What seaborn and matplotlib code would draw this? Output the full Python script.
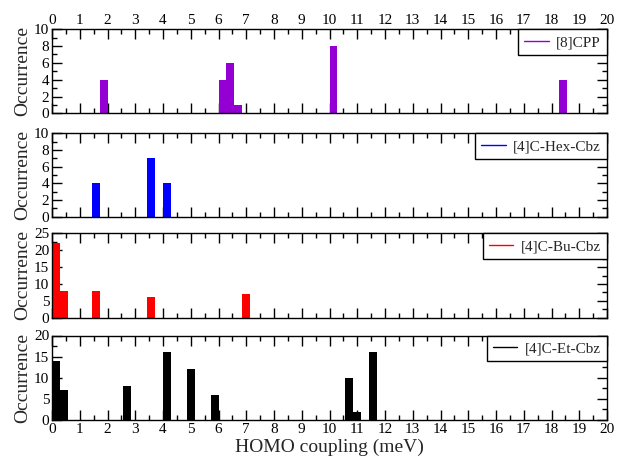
import numpy as np
import pandas as pd
import matplotlib
matplotlib.use("Agg")
import matplotlib.pyplot as plt
from matplotlib.lines import Line2D
from matplotlib.ticker import MultipleLocator
import seaborn as sns

# ---------------- data (bin centres in meV, counts) ----------------
cpp_coupling = [1.857, 6.143, 6.429, 6.714, 10.143, 18.429]
cpp_count = [4, 4, 6, 1, 8, 4]

hex_coupling = [1.571, 3.571, 4.143]
hex_count = [4, 7, 4]

bu_coupling = [0.143, 0.429, 1.571, 3.571, 7.0]
bu_count = [22, 8, 8, 6, 7]

et_coupling = [0.143, 0.429, 2.714, 4.143, 5.0, 5.857, 10.714, 11.0, 11.571]
et_count = [14, 7, 8, 16, 12, 6, 10, 2, 16]

labels = ["[8]CPP", "[4]C-Hex-Cbz", "[4]C-Bu-Cbz", "[4]C-Et-Cbz"]
colors = ["#9400D3", "#0000FF", "#FF0000", "#000000"]
ymax = [10, 10, 25, 20]
ymajor = [2, 2, 5, 5]
x_ticks = list(range(0, 21))
bin_edges = [float(v) for v in np.linspace(0, 20, 71)]

series = [(cpp_coupling, cpp_count), (hex_coupling, hex_count),
          (bu_coupling, bu_count), (et_coupling, et_count)]

sns.set_style("ticks")
plt.rcParams["font.family"] = ["Liberation Serif", "DejaVu Serif"]
plt.rcParams["mathtext.fontset"] = "stix"

fig = plt.figure(figsize=(6.19, 4.62), dpi=100)

W, H = 619.0, 462.0
left, right = 52.0, 607.0
panels_px = [(29.3, 113.3), (133.3, 216.7), (233.3, 317.7), (335.5, 420.0)]

for i, ((xs, cs), (top, bot)) in enumerate(zip(series, panels_px)):
    ax = fig.add_axes([left / W, 1 - bot / H, (right - left) / W, (bot - top) / H])
    df = pd.DataFrame({"coupling": xs, "count": cs})
    sns.histplot(data=df, x="coupling", weights="count", bins=bin_edges,
                 color=colors[i], alpha=1.0, linewidth=0, ax=ax, zorder=2)
    ax.set_xlim(0, 20)
    ax.set_ylim(0, ymax[i])
    ax.xaxis.set_major_locator(MultipleLocator(1))
    ax.xaxis.set_minor_locator(MultipleLocator(0.5))
    ax.yaxis.set_major_locator(MultipleLocator(ymajor[i]))
    ax.yaxis.set_minor_locator(MultipleLocator(ymajor[i] / 2))
    ax.tick_params(which="both", direction="in", top=True, bottom=True,
                   left=True, right=True, width=1.0, colors="black",
                   labelsize=11, pad=2)
    ax.tick_params(which="major", length=7.2)
    ax.tick_params(which="minor", length=3.6)
    ax.xaxis.set_zorder(0.5)
    ax.yaxis.set_zorder(0.5)
    for sp in ax.spines.values():
        sp.set_visible(True)
        sp.set_linewidth(1.0)
        sp.set_color("black")
        sp.set_zorder(3)
    ax.set_ylabel("Occurrence", fontsize=14, labelpad=2)
    ax.set_xlabel("")
    if i == 0:
        ax.tick_params(axis="x", which="both", labeltop=True, labelbottom=False)
        ax.set_xticks(x_ticks)
    elif i == 3:
        ax.tick_params(axis="x", which="both", labeltop=False, labelbottom=True)
        ax.set_xticks(x_ticks)
        ax.set_xlabel("HOMO coupling (meV)", fontsize=14, labelpad=2)
    else:
        ax.tick_params(axis="x", which="both", labeltop=False, labelbottom=False)
    handle = Line2D([0], [0], color=colors[i], lw=1.0)
    leg = ax.legend([handle], [labels[i]], loc="upper right", borderaxespad=0,
                    fancybox=False, framealpha=1, edgecolor="black",
                    fontsize=11, handlelength=1.6, handletextpad=0.5,
                    borderpad=0.4)
    leg.get_frame().set_linewidth(1.0)

fig.savefig("out.png", dpi=100)
